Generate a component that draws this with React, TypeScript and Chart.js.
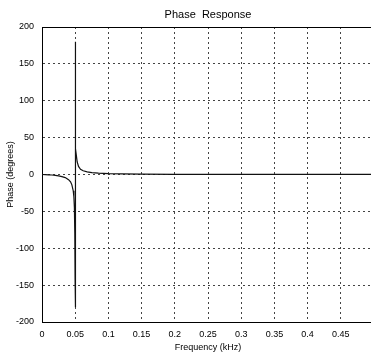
import React, { useEffect, useRef } from "react";
import { Chart, registerables } from "chart.js";

Chart.register(...registerables);

const frequencyKHz = [
  0, 0.005, 0.01, 0.015, 0.02, 0.025, 0.03, 0.035, 0.04, 0.043, 0.045, 0.047, 0.048, 0.0488, 0.0494, 0.0498,
  0.05, 0.05, 0.0502, 0.0506, 0.0512, 0.052, 0.053, 0.055, 0.058, 0.062, 0.068, 0.075, 0.085, 0.1, 0.12,
  0.15, 0.2, 0.3, 0.4, 0.5,
];
const phaseDeg = [
  0, -0.2, -0.4, -0.7, -1.2, -1.8, -2.8, -4.2, -7, -10, -14, -22, -30, -45, -80, -140,
  -180, 180, 120, 60, 35, 24, 17, 11, 7, 5, 3.5, 2.5, 1.8, 1.2, 0.8,
  0.5, 0.3, 0.15, 0.1, 0.05,
];
const xTicks = [0, 0.05, 0.1, 0.15, 0.2, 0.25, 0.3, 0.35, 0.4, 0.45];
const yTicks = [-200, -150, -100, -50, 0, 50, 100, 150, 200];
const titleText = "Phase  Response";
const xTitle = "Frequency (kHz)";
const yTitle = "Phase (degrees)";

const FONT = "Arial, 'Liberation Sans', sans-serif";

export default function App() {
  const ref = useRef<HTMLCanvasElement | null>(null);
  useEffect(() => {
    if (!ref.current) return;
    const framePlugin = {
      id: "frame",
      afterDraw(chart: any) {
        const { ctx, chartArea } = chart;
        ctx.save();
        ctx.strokeStyle = "#000";
        ctx.lineWidth = 1;
        ctx.beginPath();
        ctx.moveTo(chartArea.left, Math.round(chartArea.top) + 0.5);
        ctx.lineTo(chartArea.right, Math.round(chartArea.top) + 0.5);
        ctx.stroke();
        ctx.fillStyle = "#000";
        ctx.font = `11px ${FONT}`;
        ctx.textAlign = "center";
        ctx.textBaseline = "middle";
        ctx.fillText(titleText, (chartArea.left + chartArea.right) / 2, 15);
        ctx.restore();
      },
    };
    const chart = new Chart(ref.current, {
      type: "line",
      data: {
        datasets: [
          {
            data: frequencyKHz.map((f, i) => ({ x: f, y: phaseDeg[i] })),
            borderColor: "#111",
            borderWidth: 1.2,
            pointRadius: 0,
            tension: 0,
            fill: false,
          },
        ],
      },
      options: {
        animation: false,
        responsive: false,
        maintainAspectRatio: false,
        layout: { padding: { top: 27, right: 6, left: 0, bottom: 0 } },
        plugins: { legend: { display: false }, tooltip: { enabled: false }, title: { display: false } },
        scales: {
          x: {
            type: "linear",
            min: 0,
            max: 0.5,
            afterBuildTicks: (s: any) => {
              s.ticks = xTicks.map((v) => ({ value: v }));
            },
            afterFit: (s: any) => {
              s.height = 32;
            },
            ticks: {
              color: "#000",
              font: { size: 9, family: FONT },
              padding: 7,
              maxRotation: 0,
              autoSkip: false,
              callback: (v: any) => String(v),
            },
            grid: {
              color: "#444",
              drawTicks: false,
              tickLength: 0,
            },
            border: { display: true, color: "#000", width: 1, dash: [2, 3] },
            title: {
              display: true,
              text: xTitle,
              color: "#000",
              font: { size: 9, family: FONT },
              padding: { top: 1, bottom: 1 },
            },
          },
          y: {
            type: "linear",
            min: -200,
            max: 200,
            afterBuildTicks: (s: any) => {
              s.ticks = yTicks.map((v) => ({ value: v }));
            },
            afterFit: (s: any) => {
              s.width = 42;
            },
            ticks: {
              color: "#000",
              font: { size: 9, family: FONT },
              padding: 8,
              autoSkip: false,
            },
            grid: {
              color: "#444",
              drawTicks: false,
              tickLength: 0,
            },
            border: { display: true, color: "#000", width: 1, dash: [2, 3] },
            title: {
              display: true,
              text: yTitle,
              color: "#000",
              font: { size: 9, family: FONT },
              padding: { top: 5, bottom: 2 },
            },
          },
        },
      },
      plugins: [framePlugin],
    });
    return () => chart.destroy();
  }, []);
  return (
    <div style={{ position: "fixed", left: 0, top: 0, width: 371, height: 354, overflow: "hidden", background: "#fff" }}>
      <canvas ref={ref} width={380} height={354} style={{ width: 380, height: 354, display: "block" }} />
    </div>
  );
}
